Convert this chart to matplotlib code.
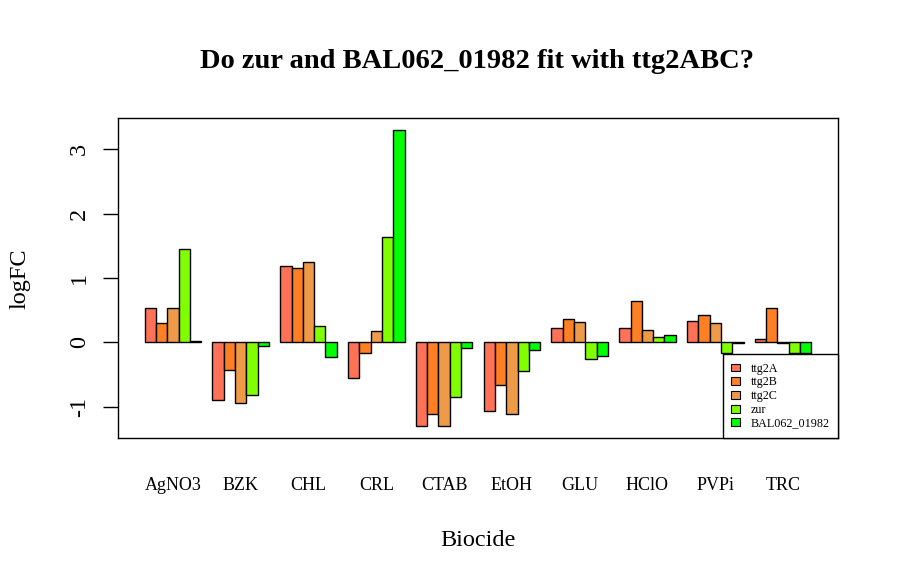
import numpy as np
import matplotlib.pyplot as plt
from matplotlib.patches import Patch

plt.rcParams['font.family'] = ['Liberation Serif', 'DejaVu Serif']

biocides = ['AgNO3', 'BZK', 'CHL', 'CRL', 'CTAB', 'EtOH', 'GLU', 'HClO', 'PVPi', 'TRC']
genes = ['ttg2A', 'ttg2B', 'ttg2C', 'zur', 'BAL062_01982']

ttg2A = [0.53, -0.89, 1.19, -0.56, -1.30, -1.06, 0.23, 0.23, 0.34, 0.05]
ttg2B = [0.30, -0.43, 1.16, -0.17, -1.11, -0.66, 0.36, 0.64, 0.42, 0.53]
ttg2C = [0.53, -0.94, 1.25, 0.18, -1.30, -1.11, 0.31, 0.20, 0.30, -0.01]
zur = [1.45, -0.81, 0.25, 1.64, -0.85, -0.44, -0.25, 0.09, -0.16, -0.16]
bal = [0.015, -0.05, -0.22, 3.30, -0.09, -0.125, -0.21, 0.11, -0.005, -0.16]

colors = ['#FF7256', '#FF7F24', '#EE9A49', '#7FFF00', '#00FF00']

fig = plt.figure(figsize=(9, 5.86), dpi=100)
ax = fig.add_axes([118/900, 148/586, 720/900, 320/586])

series = [ttg2A, ttg2B, ttg2C, zur, bal]
n = len(biocides)
for j, vals in enumerate(series):
    x = 1 + 6*np.arange(n) + j
    ax.bar(x, vals, width=1, align='edge', color=colors[j], edgecolor='black', linewidth=1)

ax.set_xlim(-1.36, 62.36)
ax.set_ylim(-1.484, 3.484)

ax.set_xticks(1 + 6*np.arange(n) + 2.5)
ax.set_xticklabels(biocides, fontsize=13)
ax.tick_params(axis='x', length=0, pad=28)

ax.set_yticks([-1, 0, 1, 2, 3])
ax.set_yticklabels(['-1', '0', '1', '2', '3'], rotation=90, va='center', fontsize=17.5)
ax.tick_params(axis='y', length=11, width=1, pad=9)

for s in ax.spines.values():
    s.set_linewidth(1)

fig.text(478/900, 1 - 541/586, 'Biocide', fontsize=17.5, ha='center', va='center')
fig.text(20.5/900, 1 - 278.5/586, 'logFC', fontsize=17.5, rotation=90, ha='center', va='center')
fig.text(477/900, 1 - 61/586, 'Do zur and BAL062_01982 fit with ttg2ABC?',
         fontsize=20.5, fontweight='bold', ha='center', va='center')

handles = [Patch(facecolor=c, edgecolor='black', linewidth=0.8) for c in colors]
leg = ax.legend(handles, genes, loc='lower right', borderaxespad=0, fontsize=8.7,
                fancybox=False, edgecolor='black', framealpha=1,
                handlelength=0.76, handleheight=0.62, labelspacing=0.14, handletextpad=0.85,
                borderpad=0.7)
leg.get_frame().set_linewidth(1)

fig.savefig('out.png', dpi=100)
